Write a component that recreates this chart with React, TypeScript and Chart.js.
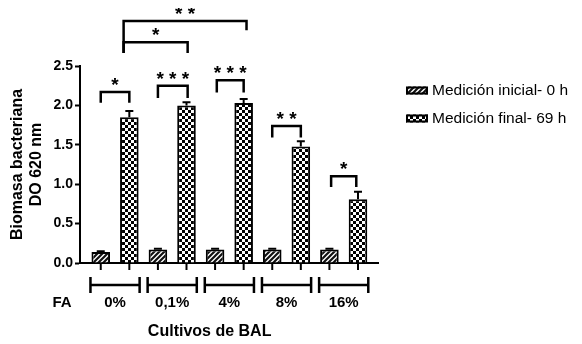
import React, { useEffect, useRef } from 'react';
import { Chart, registerables } from 'chart.js';

Chart.register(...registerables);

// ---- data ----
const groups = ['0%', '0,1%', '4%', '8%', '16%'];
const seriesNames = ['Medición inicial- 0 h', 'Medición final- 69 h'];
const initialValues = [0.14, 0.17, 0.17, 0.17, 0.17];
const initialErrors = [0.01, 0.01, 0.01, 0.01, 0.01];
const finalValues = [1.85, 2.0, 2.03, 1.48, 0.81];
const finalErrors = [0.08, 0.04, 0.05, 0.065, 0.095];
const yTicks = [0, 0.5, 1, 1.5, 2, 2.5];
const groupAxisLabel = 'FA';
const xTitle = 'Cultivos de BAL';
const yTitle = ['Biomasa bacteriana', 'DO 620 nm'];
// significance brackets (x in group units, y in data units)
const bracketX1 = [-0.25, 0.75, 1.78, 2.75, 3.78, 0.15, 0.15];
const bracketX2 = [0.25, 1.27, 2.25, 3.25, 4.22, 1.27, 2.3];
const bracketTop = [2.17, 2.25, 2.32, 1.74, 1.1, 2.8, 3.07];
const bracketLeftEnd = [2.05, 2.11, 2.18, 1.61, 0.98, 2.68, 2.68];
const bracketRightEnd = [2.05, 2.11, 2.18, 1.61, 0.98, 2.68, 2.97];
const bracketLabels = ['*', '* * *', '* * *', '* *', '*', '*', '* *'];

const FONT = "'Liberation Sans', Arial, sans-serif";
const W = 566;
const H = 336;

function makeHatch(ctx0: CanvasRenderingContext2D) {
  const c = document.createElement('canvas');
  c.width = 5;
  c.height = 5;
  const g = c.getContext('2d')!;
  g.fillStyle = '#fff';
  g.fillRect(0, 0, 5, 5);
  g.strokeStyle = '#111';
  g.lineWidth = 2.2;
  g.beginPath();
  g.moveTo(-1, 6);
  g.lineTo(6, -1);
  g.moveTo(-1, 1);
  g.lineTo(1, -1);
  g.moveTo(4, 6);
  g.lineTo(6, 4);
  g.stroke();
  return ctx0.createPattern(c, 'repeat')!;
}

function makeChecker(ctx0: CanvasRenderingContext2D) {
  const c = document.createElement('canvas');
  c.width = 6;
  c.height = 6;
  const g = c.getContext('2d')!;
  g.fillStyle = '#fff';
  g.fillRect(0, 0, 6, 6);
  g.fillStyle = '#000';
  g.fillRect(0, 0, 3, 3);
  g.fillRect(3, 3, 3, 3);
  return ctx0.createPattern(c, 'repeat')!;
}

export default function App() {
  const ref = useRef<HTMLCanvasElement | null>(null);

  useEffect(() => {
    const canvas = ref.current!;
    const ctx = canvas.getContext('2d')!;
    const hatch = makeHatch(ctx);
    const checker = makeChecker(ctx);
    const patterns = [hatch, checker];
    const errs = [initialErrors, finalErrors];
    const vals = [initialValues, finalValues];

    const annot = {
      id: 'annot',
      afterDatasetsDraw(chart: any) {
        const c = chart.ctx;
        const ys = chart.scales.y;
        c.save();
        c.strokeStyle = '#000';
        c.lineWidth = 2;
        for (let d = 0; d < 2; d++) {
          const meta = chart.getDatasetMeta(d);
          meta.data.forEach((bar: any, i: number) => {
            const base = ys.getPixelForValue(vals[d][i]);
            const top = ys.getPixelForValue(vals[d][i] + errs[d][i]);
            c.beginPath();
            c.moveTo(bar.x, base);
            c.lineTo(bar.x, top);
            c.moveTo(bar.x - 4, top);
            c.lineTo(bar.x + 4, top);
            c.stroke();
          });
        }
        c.restore();
      },
      afterDraw(chart: any) {
        const c = chart.ctx;
        const xs = chart.scales.x;
        const ys = chart.scales.y;
        const area = chart.chartArea;
        c.save();
        c.strokeStyle = '#000';
        c.fillStyle = '#000';
        c.lineWidth = 2;
        // ticks under each bar
        const m0 = chart.getDatasetMeta(0).data;
        const m1 = chart.getDatasetMeta(1).data;
        [m0, m1].forEach((arr: any[]) => {
          arr.forEach((bar: any) => {
            c.beginPath();
            c.moveTo(bar.x, area.bottom);
            c.lineTo(bar.x, area.bottom + 7);
            c.stroke();
          });
        });
        // group brackets under axis
        const gy = area.bottom + 22;
        c.lineWidth = 2.5;
        groups.forEach((g, i) => {
          const l = m0[i].x - m0[i].width / 2 - 1;
          const r = m1[i].x + m1[i].width / 2 + 1;
          c.beginPath();
          c.moveTo(l, gy - 8);
          c.lineTo(l, gy + 8);
          c.moveTo(l, gy);
          c.lineTo(r, gy);
          c.moveTo(r, gy - 8);
          c.lineTo(r, gy + 8);
          c.stroke();
          c.font = `bold 15px ${FONT}`;
          c.textAlign = 'center';
          c.textBaseline = 'middle';
          c.fillText(g, (l + r) / 2, gy + 18);
        });
        c.font = `bold 15px ${FONT}`;
        c.textAlign = 'center';
        c.textBaseline = 'middle';
        c.fillText(groupAxisLabel, 54, gy + 18);
        // x title
        const rightEnd = m1[groups.length - 1].x + m1[groups.length - 1].width / 2;
        c.font = `bold 16px ${FONT}`;
        c.fillText(xTitle, (44 + rightEnd) / 2, 324);

        // significance brackets
        c.lineWidth = 2.5;
        c.lineCap = 'square';
        for (let k = 0; k < bracketLabels.length; k++) {
          const x1 = xs.getPixelForValue(bracketX1[k]);
          const x2 = xs.getPixelForValue(bracketX2[k]);
          const yt = ys.getPixelForValue(bracketTop[k]);
          const yl = ys.getPixelForValue(bracketLeftEnd[k]);
          const yr = ys.getPixelForValue(bracketRightEnd[k]);
          c.beginPath();
          c.moveTo(x1, yl);
          c.lineTo(x1, yt);
          c.lineTo(x2, yt);
          c.lineTo(x2, yr);
          c.stroke();
          c.font = `bold 19px ${FONT}`;
          c.textAlign = 'center';
          c.textBaseline = 'alphabetic';
          c.fillText(bracketLabels[k], (x1 + x2) / 2, yt - 1);
        }

        // legend
        const rows = [82.5, 110.5];
        seriesNames.forEach((name, i) => {
          c.fillStyle = patterns[i];
          c.fillRect(398, rows[i] - 4, 22, 8);
          c.strokeStyle = '#000';
          c.lineWidth = 2;
          c.strokeRect(399, rows[i] - 3, 20, 6);
          c.fillStyle = '#000';
          c.font = `15.5px ${FONT}`;
          c.textAlign = 'left';
          c.textBaseline = 'middle';
          c.fillText(name, 424, rows[i]);
        });
        c.restore();
      },
    };

    const chart = new Chart(canvas, {
      type: 'bar',
      data: {
        datasets: [
          {
            label: seriesNames[0],
            data: initialValues.map((v, i) => ({ x: i, y: v })),
            backgroundColor: hatch,
            borderColor: '#000',
            borderWidth: 2,
          },
          {
            label: seriesNames[1],
            data: finalValues.map((v, i) => ({ x: i, y: v })),
            backgroundColor: checker,
            borderColor: '#000',
            borderWidth: 2,
          },
        ],
      },
      options: {
        responsive: false,
        animation: false,
        events: [],
        layout: { padding: { top: 58, right: 196, bottom: H - 255, left: 0 } },
        datasets: { bar: { categoryPercentage: 1.0, barPercentage: 0.65 } },
        plugins: { legend: { display: false }, tooltip: { enabled: false } },
        scales: {
          x: {
            type: 'linear',
            offset: false,
            bounds: 'data',
            min: -0.613,
            max: 4.6,
            afterBuildTicks: (s: any) => {
              s.ticks = groups.map((_, i) => ({ value: i }));
            },
            ticks: { display: false },
            grid: { display: false, drawTicks: false, offset: false },
            border: { display: true, color: '#000', width: 2 },
            afterFit: (s: any) => {
              s.height = 0;
            },
          },
          y: {
            min: 0,
            max: 2.5,
            afterBuildTicks: (s: any) => {
              s.ticks = yTicks.map((v) => ({ value: v }));
            },
            ticks: {
              color: '#000',
              padding: 2,
              font: { family: FONT, size: 14, weight: 'bold' },
              callback: (v: any) => Number(v).toFixed(1),
            },
            grid: {
              display: true,
              drawOnChartArea: false,
              drawTicks: true,
              tickLength: 5,
              tickWidth: 2,
              tickColor: '#000',
            },
            border: { display: true, color: '#000', width: 2 },
            title: {
              display: true,
              text: yTitle,
              color: '#000',
              padding: 0,
              font: { family: FONT, size: 16, weight: 'bold', lineHeight: 1.2 },
            },
            afterFit: (s: any) => {
              s.width = 72;
            },
          },
        },
      },
      plugins: [annot],
    } as any);

    return () => chart.destroy();
  }, []);

  return (
    <div style={{ position: 'fixed', left: 8, top: 8, width: W, height: H }}>
      <canvas ref={ref} width={W} height={H} style={{ display: 'block' }} />
    </div>
  );
}
